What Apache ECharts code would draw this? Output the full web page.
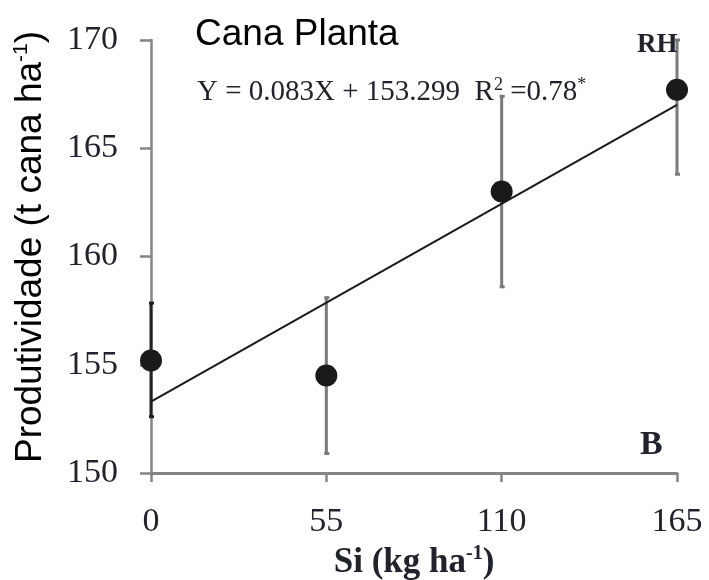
<!DOCTYPE html>
<html>
<head>
<meta charset="utf-8">
<script src="https://cdn.jsdelivr.net/npm/echarts@6/dist/echarts.min.js"></script>
<style>
  html, body { margin: 0; padding: 0; background: #fff; }
  #chart { width: 709px; height: 580px; }
</style>
</head>
<body>
<div id="chart"></div>
<script>
// doses de Si (kg/ha)
var siDoses = [0, 55, 110, 165];
// produtividade media (t cana/ha)
var yieldMeans = [155.2, 154.5, 163.0, 167.7];
// limites das barras de erro
var errLow = [152.6, 150.9, 158.6, 163.8];
var errHigh = [157.85, 158.1, 167.4, 170.0];
// reta ajustada, pontos extremos
var fitX = [0, 165];
var fitY = [153.3, 167.0];
var yTicks = [150, 155, 160, 165, 170];

var chart = echarts.init(document.getElementById('chart'));

var serif = '"Liberation Serif", "Times New Roman", serif';
var sans = '"Liberation Sans", Arial, sans-serif';
var axisGrey = '#858585';
var textDark = '#22222c';

var points = siDoses.map(function (x, i) { return [x, yieldMeans[i]]; });
var bars = siDoses.map(function (x, i) { return [x, errLow[i], errHigh[i]]; });
var fitLine = fitX.map(function (x, i) { return [x, fitY[i]]; });

var option = {
  animation: false,
  title: [
    {
      text: 'Cana Planta',
      left: 190, top: 11,
      textStyle: { fontFamily: sans, fontSize: 37, fontWeight: 'normal', color: '#000' }
    },
    {
      text: 'Y = 0.083X + 153.299  R{s|2} =0.78{s|*}',
      left: 192, top: 71,
      textStyle: {
        fontFamily: serif, fontSize: 29, fontWeight: 'normal', color: textDark,
        rich: {
          s: { fontFamily: serif, fontSize: 18, color: textDark, verticalAlign: 'top', lineHeight: 32 }
        }
      }
    },
    {
      text: 'RH',
      left: 632, top: 27,
      textStyle: { fontFamily: serif, fontSize: 27, fontWeight: 'bold', color: textDark }
    },
    {
      text: 'B',
      left: 635, top: 423,
      textStyle: { fontFamily: serif, fontSize: 34, fontWeight: 'bold', color: textDark }
    }
  ],
  graphic: [
    {
      type: 'text',
      x: 31, y: 247,
      rotation: Math.PI / 2,
      style: {
        text: 'Produtividade (t cana ha{s|-1})',
        fontFamily: sans, fontSize: 37, fill: '#000',
        align: 'center', verticalAlign: 'middle',
        rich: { s: { fontFamily: sans, fontSize: 21, fill: '#000', verticalAlign: 'top', lineHeight: 41 } }
      }
    }
  ],
  grid: { left: 151, right: 32, top: 40, bottom: 107, outerBoundsMode: 'none' },
  xAxis: {
    type: 'value',
    min: 0, max: 165, interval: 55,
    name: 'Si (kg ha{s|-1})',
    nameLocation: 'middle',
    nameGap: 65,
    nameTextStyle: {
      fontFamily: serif, fontSize: 35, fontWeight: 'bold', color: textDark,
      rich: { s: { fontFamily: serif, fontSize: 20, fontWeight: 'bold', color: textDark, verticalAlign: 'top', lineHeight: 38 } }
    },
    splitLine: { show: false },
    axisLine: { lineStyle: { color: axisGrey, width: 3 } },
    axisTick: { length: 9, lineStyle: { color: axisGrey, width: 2.5 } },
    axisLabel: { fontFamily: serif, fontSize: 34, color: textDark, margin: 32 }
  },
  yAxis: {
    type: 'value',
    min: yTicks[0], max: yTicks[yTicks.length - 1], interval: 5,
    splitLine: { show: false },
    axisLine: { lineStyle: { color: axisGrey, width: 2.5 } },
    axisTick: { length: 11, lineStyle: { color: axisGrey, width: 2.5 } },
    axisLabel: { fontFamily: serif, fontSize: 34, color: textDark, margin: 33 }
  },
  series: [
    {
      type: 'custom',
      clip: false,
      z: 2,
      data: bars,
      renderItem: function (params, api) {
        var top = api.coord([api.value(0), api.value(2)]);
        var bot = api.coord([api.value(0), api.value(1)]);
        var col = params.dataIndex === 0 ? '#222' : '#7a7a7a';
        var st = { stroke: col, lineWidth: 3 };
        return {
          type: 'group',
          children: [
            { type: 'line', shape: { x1: top[0], y1: top[1], x2: bot[0], y2: bot[1] }, style: st },
            { type: 'line', shape: { x1: top[0] - 2, y1: top[1], x2: top[0] + 3, y2: top[1] }, style: st },
            { type: 'line', shape: { x1: bot[0] - 2, y1: bot[1], x2: bot[0] + 3, y2: bot[1] }, style: st }
          ]
        };
      }
    },
    {
      type: 'line',
      data: fitLine,
      symbol: 'none',
      z: 3,
      lineStyle: { color: '#1a1a1a', width: 2 }
    },
    {
      type: 'scatter',
      data: points,
      symbol: 'circle',
      symbolSize: 22,
      z: 4,
      itemStyle: { color: '#1a1a1a', opacity: 1 }
    }
  ]
};

chart.setOption(option);
</script>
</body>
</html>
